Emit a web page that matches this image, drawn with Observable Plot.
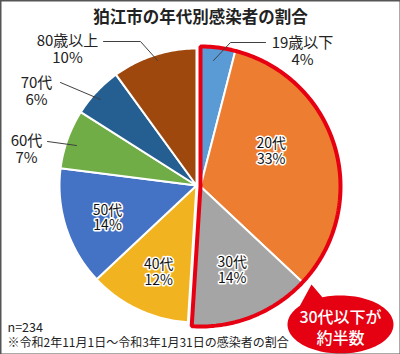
<!DOCTYPE html>
<html><head><meta charset="utf-8">
<script src="https://cdn.jsdelivr.net/npm/d3@7"></script>
<script src="https://cdn.jsdelivr.net/npm/@observablehq/plot@0.6"></script>
<style>
html,body{margin:0;padding:0;background:#fff;}
#chart{width:400px;height:354px;}
</style></head><body><div id="chart"></div>
<script>
// ---- data ----
const categories = ["19歳以下","20代","30代","40代","50代","60代","70代","80歳以上"];
const shares = [4,33,14,12,14,7,6,10];
const colors = ["#5b9bd5","#ed7d31","#a5a5a5","#f2b320","#4472c4","#70ad47","#255e91","#9e480e"];
const highlighted = ["19歳以下","20代","30代"];
const title = "狛江市の年代別感染者の割合";
const sampleNote = "n=234";
const periodNote = "※令和2年11月1日～令和3年1月31日の感染者の割合";
const calloutText = "30代以下が\n約半数";

// ---- layout (pixels) ----
const W = 400, H = 354, CX = 196, CY = 185, R = 137;
const hiOffset = [4, 1], hiScale = 140 / 137;
const ux = p => (p - CX) / R, uy = p => (p - CY) / R;
const insideLayout = {"20代": {r: 0.6, shift: -8.5}, "30代": {r: 0.67, shift: -1.3}, "40代": {r: 0.69, shift: -1.6}, "50代": {r: 0.69, shift: -1.8}};
const outsideLayout = {
  "19歳以下": {text: [302, 51], leader: [[213,60],[230,42],[265,42]]},
  "80歳以上": {text: [67, 49], leader: [[103,41],[140,41],[157,60]]},
  "70代": {text: [36, 91], leader: [[60,82],[100,99]]},
  "60代": {text: [26, 149], leader: [[47,141],[76,145]]}
};
const callout = {cx: 340, cy: 324, rx: 53, ry: 29, tip: [311, 284], base: [220, 250]};

// ---- geometry from data ----
const arcs = d3.pie().sort(null).value(d => d)(shares);
function sector(a0, a1, cx, cy, r) {
  const pts = [[cx, cy]];
  const n = Math.max(2, Math.ceil((a1 - a0) / (Math.PI / 180)));
  for (let k = 0; k <= n; k++) {
    const a = a0 + (a1 - a0) * k / n;
    pts.push([cx + r * Math.sin(a), cy - r * Math.cos(a)]);
  }
  pts.push([cx, cy]);
  return pts;
}
const hx = hiOffset[0] / R, hy = hiOffset[1] / R;
const sliceRows = [];
arcs.forEach((a, i) => {
  const hi = highlighted.includes(categories[i]);
  const pts = hi ? sector(a.startAngle, a.endAngle, hx, hy, hiScale) : sector(a.startAngle, a.endAngle, 0, 0, 1);
  pts.forEach(([x, y]) => sliceRows.push({name: categories[i], color: colors[i], hi, x, y}));
});
const hiIdx = highlighted.map(n => categories.indexOf(n));
const outline = sector(arcs[Math.min(...hiIdx)].startAngle, arcs[Math.max(...hiIdx)].endAngle, hx, hy, hiScale)
  .map(([x, y]) => ({x, y}));

const insideLabels = arcs.map((a, i) => ({a, i})).filter(d => insideLayout[categories[d.i]]).map(({a, i}) => {
  const L = insideLayout[categories[i]];
  const m = (a.startAngle + a.endAngle) / 2 + L.shift * Math.PI / 180;
  return {x: L.r * Math.sin(m), y: -L.r * Math.cos(m), text: `${categories[i]}\n${shares[i]}%`};
});
const outsideLabels = [], leaders = [];
categories.forEach((c, i) => {
  const L = outsideLayout[c];
  if (!L) return;
  outsideLabels.push({x: ux(L.text[0]), y: uy(L.text[1]), text: `${c}\n${shares[i]}%`});
  L.leader.forEach(([x, y]) => leaders.push({name: c, x: ux(x), y: uy(y)}));
});

const cPts = [{x: ux(callout.tip[0]), y: uy(callout.tip[1])}];
for (let t = callout.base[1]; t <= callout.base[0] + 360; t += 3) {
  const a = t * Math.PI / 180;
  cPts.push({x: ux(callout.cx + callout.rx * Math.cos(a)), y: uy(callout.cy + callout.ry * Math.sin(a))});
}

const font = "'Noto Sans CJK JP', 'Noto Sans', sans-serif";
const chart = Plot.plot({
  width: W, height: H, margin: 0,
  x: {domain: [ux(0), ux(W)], range: [0, W], axis: null},
  y: {domain: [uy(0), uy(H)], range: [0, H], axis: null},
  color: {type: "identity"},
  style: {fontFamily: font, background: "#fff", color: "#222"},
  marks: [
    Plot.line(sliceRows.filter(d => !d.hi), {x: "x", y: "y", z: "name", fill: "color", stroke: "#fff", strokeWidth: 2, strokeLinejoin: "round"}),
    Plot.line(sliceRows.filter(d => d.hi), {x: "x", y: "y", z: "name", fill: "color", stroke: "#fff", strokeWidth: 2, strokeLinejoin: "round"}),
    Plot.line(outline, {x: "x", y: "y", stroke: "#e60012", strokeWidth: 4, strokeLinejoin: "miter"}),
    Plot.line(leaders, {x: "x", y: "y", z: "name", stroke: "#404040", strokeWidth: 1}),
    Plot.text(insideLabels, {x: "x", y: "y", text: "text", fontSize: 14, lineHeight: 1.1, fill: "#111", stroke: "#fff", strokeWidth: 3, paintOrder: "stroke"}),
    Plot.text(outsideLabels, {x: "x", y: "y", text: "text", fontSize: 15, lineHeight: 1.12, fill: "#222"}),
    Plot.line(cPts, {x: "x", y: "y", fill: "#e50012", stroke: "none"}),
    Plot.text([calloutText], {x: ux(callout.cx), y: uy(callout.cy + 2), text: d => d, fontSize: 16, lineHeight: 1.3, fill: "#fff", fontWeight: 500}),
    Plot.text([title], {x: ux(200), y: uy(17), text: d => d, fontSize: 16.5, fontWeight: "bold", fill: "#222"}),
    Plot.text([sampleNote], {x: ux(7), y: uy(327), text: d => d, fontSize: 12.5, textAnchor: "start", fill: "#222"}),
    Plot.text([periodNote], {x: ux(7), y: uy(343), text: d => d, fontSize: 12, textAnchor: "start", fill: "#222"}),
    Plot.frame({stroke: "#555", strokeWidth: 2})
  ]
});
document.getElementById("chart").append(chart);
</script></body></html>
